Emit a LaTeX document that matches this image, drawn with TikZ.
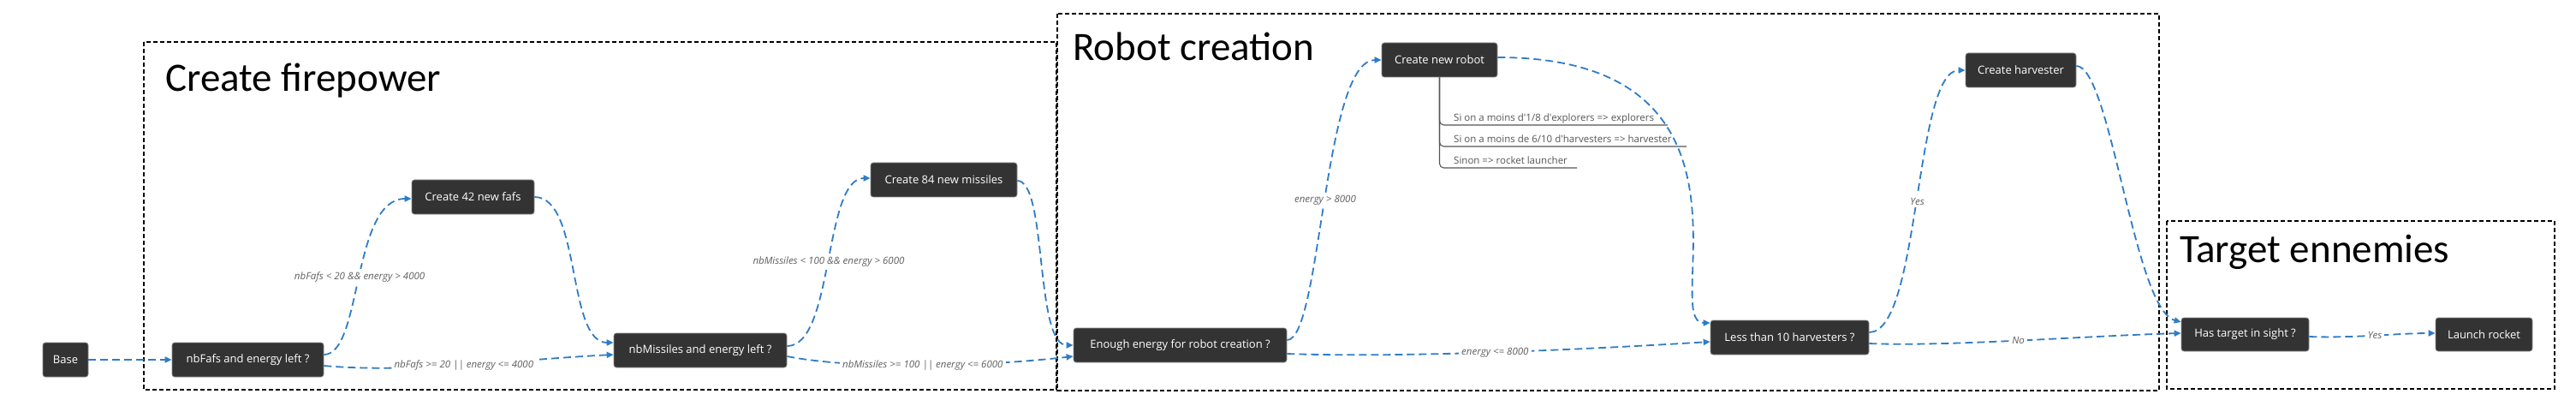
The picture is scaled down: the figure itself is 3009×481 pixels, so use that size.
\documentclass[tikz,border=0pt]{standalone}
\usepackage{fontspec}
\setmainfont{Open Sans}
\newfontfamily\titlefont{Carlito}
\usetikzlibrary{arrows.meta}
\definecolor{nodebg}{HTML}{333333}
\definecolor{nodeedge}{HTML}{8A8A8A}
\definecolor{flowblue}{HTML}{2F7CC6}
\definecolor{lblgray}{HTML}{5F5F5F}
\definecolor{treegray}{HTML}{555555}
\begin{document}
\begin{tikzpicture}[x=1pt,y=-1pt,
  groupbox/.style={draw=black, line width=1.8pt, dash pattern=on 5pt off 3pt},
  grouptitle/.style={anchor=base west, inner sep=0pt, font=\titlefont\fontsize{47}{52}\selectfont},
  stepbox/.style={fill=nodebg, draw=nodeedge, line width=0.7pt, rounded corners=3pt,
    text=white, font=\fontsize{13}{15}\selectfont, minimum height=40pt, inner sep=0pt},
  flow/.style={draw=flowblue, line width=1.8pt, dash pattern=on 9pt off 5pt,
    -{Triangle[length=8pt,width=7pt]}},
  lbl/.style={fill=white, text=lblgray, inner sep=3pt, font=\fontsize{11.5}{13}\selectfont\itshape},
  itemtext/.style={anchor=base west, inner sep=0pt, text=treegray, font=\fontsize{11.5}{13}\selectfont},
  tree/.style={draw=treegray, line width=1.1pt, rounded corners=5pt}
]
\fill[white] (0,0) rectangle (3009,481);
\useasboundingbox (0,0) rectangle (3009,481);

% group boxes
\draw[groupbox] (168,49) rectangle (1234,455);
\draw[groupbox] (1235,16) rectangle (2522,456);
\draw[groupbox] (2531,258) rectangle (2984,454);

\node[grouptitle] (t1) at (193,107) {Create firepower};
\node[grouptitle] (t2) at (1253,71) {Robot creation};
\node[grouptitle] (t3) at (2546,306) {Target ennemies};

% nodes
\node[stepbox, minimum width=53pt]  (base)   at (76.5,420)   {Base};
\node[stepbox, minimum width=177pt] (nbf)    at (289.5,420)  {nbFafs and energy left ?};
\node[stepbox, minimum width=143pt] (c42)    at (552.5,230)  {Create 42 new fafs};
\node[stepbox, minimum width=202pt] (nbm)    at (818,409)    {nbMissiles and energy left ?};
\node[stepbox, minimum width=171pt] (c84)    at (1102.5,210) {Create 84 new missiles};
\node[stepbox, minimum width=249pt] (enough) at (1378.5,403) {Enough energy for robot creation ?};
\node[stepbox, minimum width=135pt] (crn)    at (1681.5,70)  {Create new robot};
\node[stepbox, minimum width=185pt] (lt10)   at (2090.5,394) {Less than 10 harvesters ?};
\node[stepbox, minimum width=129pt] (chv)    at (2360.5,82)  {Create harvester};
\node[stepbox, minimum width=149pt, minimum height=39pt] (hts) at (2622.5,390.5) {Has target in sight ?};
\node[stepbox, minimum width=113pt, minimum height=39pt] (lr)  at (2901.5,390.5) {Launch rocket};

% tree list under "Create new robot"
\node[itemtext] (it1) at (1698,142) {Si on a moins d\textquotesingle 1/8 d\textquotesingle explorers => explorers};
\node[itemtext] (it2) at (1698,167) {Si on a moins de 6/10 d\textquotesingle harvesters => harvester};
\node[itemtext] (it3) at (1698,192) {Sinon => rocket launcher};
\coordinate (u1) at (1948,146);
\coordinate (u2) at (1970,171);
\coordinate (u3) at (1842,196);
\draw[tree] (crn.south) |- (u1);
\draw[tree] (crn.south) |- (u2);
\draw[tree] (crn.south) |- (u3);

% connectors
\draw[flow] (base.east) -- (nbf.west);
\draw[flow] ([yshift=6pt]nbf.east) .. controls +(45,0) and +(-70,0) .. ([yshift=-2pt]c42.west)
  node[lbl, pos=0.5] {nbFafs < 20 \&\& energy > 4000};
\draw[flow] (c42.east) .. controls +(55,0) and +(-55,0) .. ([yshift=9pt]nbm.west);
\draw[flow] ([yshift=-7pt]nbf.east) .. controls +(102,9) and +(-117,6) .. ([yshift=-5pt]nbm.west)
  node[lbl, pos=0.5] {nbFafs >= 20 || energy <= 4000};
\draw[flow] ([yshift=5pt]nbm.east) .. controls +(55,0) and +(-55,0) .. ([yshift=2pt]c84.west)
  node[lbl, pos=0.5] {nbMissiles < 100 \&\& energy > 6000};
\draw[flow] ([yshift=-1pt]c84.east) .. controls +(35,0) and +(-45,0) .. (enough.west);
\draw[flow] ([yshift=-7pt]nbm.east) .. controls +(81,16) and +(-104,12) .. ([yshift=-13pt]enough.west)
  node[lbl, pos=0.5] {nbMissiles >= 100 || energy <= 6000};
\draw[flow] ([yshift=6pt]enough.east) .. controls +(40,0) and +(-68,0) .. (crn.west)
  node[lbl, pos=0.5] {energy > 8000};
\draw[flow] ([yshift=3pt]crn.east) .. controls +(330,0) and +(-60,0) .. ([yshift=17pt]lt10.west);
\draw[flow] ([yshift=-10pt]enough.east) .. controls +(137,5) and +(-148,9) .. ([yshift=-5pt]lt10.west)
  node[lbl, pos=0.5] {energy <= 8000};
\draw[flow] ([yshift=6pt]lt10.east) .. controls +(60,0) and +(-60,0) .. (chv.west)
  node[lbl, pos=0.5] {Yes};
\draw[flow] ([yshift=5pt]chv.east) .. controls +(40,0) and +(-55,-15) .. ([yshift=14.5pt]hts.west);
\draw[flow] ([yshift=-7pt]lt10.east) .. controls +(87,4) and +(-108,3) .. ([yshift=1.5pt]hts.west)
  node[lbl, pos=0.5] {No};
\draw[flow] ([yshift=-2.5pt]hts.east) .. controls +(53,2) and +(-45,0) .. ([yshift=1.5pt]lr.west)
  node[lbl, pos=0.5] {Yes};
\end{tikzpicture}
\end{document}
